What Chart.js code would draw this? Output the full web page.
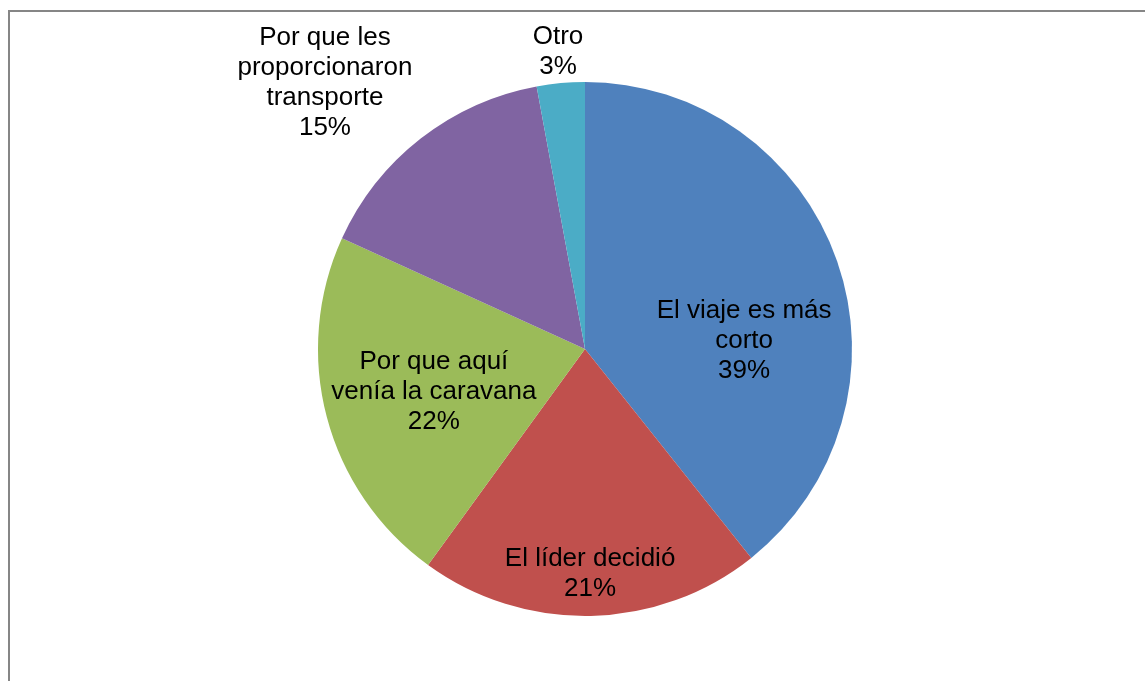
<!DOCTYPE html>
<html>
<head>
<meta charset="utf-8">
<script src="https://cdn.jsdelivr.net/npm/chart.js@4/dist/chart.umd.min.js"></script>
<style>
  html, body { margin: 0; padding: 0; background: #fff; }
  #wrap { position: relative; width: 1145px; height: 681px; }
</style>
</head>
<body>
<div id="wrap"><canvas id="myChart" width="1145" height="681"></canvas></div>
<script>
// Data
var categories = [
    "El viaje es más corto",
    "El líder decidió",
    "Por que aquí venía la caravana",
    "Por que les proporcionaron transporte",
    "Otro"
];
var values = [39.3, 20.7, 21.8, 15.3, 2.9];

// Label text lines per slice (category wrapped as in the picture)
var labelLines = [
    ["El viaje es más", "corto"],
    ["El líder decidió"],
    ["Por que aquí", "venía la caravana"],
    ["Por que les", "proporcionaron", "transporte"],
    ["Otro"]
];

var sliceColors = ["#4F81BD", "#C0504D", "#9BBB59", "#8064A2", "#4BACC6"];

// label block centre, in units of the pie radius from the pie centre
var labelOffsets = [
    [0.596, -0.03],
    [0.019, 0.843],
    [-0.566, 0.161],
    [-0.974, -0.996],
    [-0.101, -1.112]
];

var total = values.reduce(function (a, b) { return a + b; }, 0);

// Frame around the chart
var framePlugin = {
    id: "frame",
    beforeDraw: function (chart) {
        var ctx = chart.ctx;
        ctx.save();
        ctx.fillStyle = "#ffffff";
        ctx.fillRect(0, 0, chart.width, chart.height);
        ctx.strokeStyle = "#868686";
        ctx.lineWidth = 2;
        ctx.strokeRect(9, 11, chart.width + 20, chart.height + 20);
        ctx.restore();
    }
};

// Data labels: category + percentage
var labelPlugin = {
    id: "sliceLabels",
    afterDatasetsDraw: function (chart) {
        var ctx = chart.ctx;
        var meta = chart.getDatasetMeta(0);
        ctx.save();
        ctx.font = "26px 'Liberation Sans', Arial, sans-serif";
        ctx.fillStyle = "#000000";
        ctx.textAlign = "center";
        ctx.textBaseline = "middle";
        meta.data.forEach(function (arc, i) {
            var r = arc.outerRadius;
            var lines = labelLines[i].concat([Math.round(values[i] / total * 100) + "%"]);
            var cx = arc.x + labelOffsets[i][0] * r;
            var cy = arc.y + labelOffsets[i][1] * r;
            var lh = 30;
            var top = cy - (lines.length - 1) * lh / 2;
            lines.forEach(function (t, k) {
                ctx.fillText(t, cx, top + k * lh);
            });
        });
        ctx.restore();
    }
};

var ctx = document.getElementById("myChart").getContext("2d");
var pieChart = new Chart(ctx, {
    type: "pie",
    data: {
        labels: categories,
        datasets: [{
            data: values,
            backgroundColor: sliceColors,
            borderWidth: 0
        }]
    },
    options: {
        responsive: false,
        animation: false,
        layout: {
            padding: { top: 82, bottom: 65, left: 318, right: 293 }
        },
        plugins: {
            legend: { display: false },
            tooltip: { enabled: false }
        }
    },
    plugins: [framePlugin, labelPlugin]
});
</script>
</body>
</html>
